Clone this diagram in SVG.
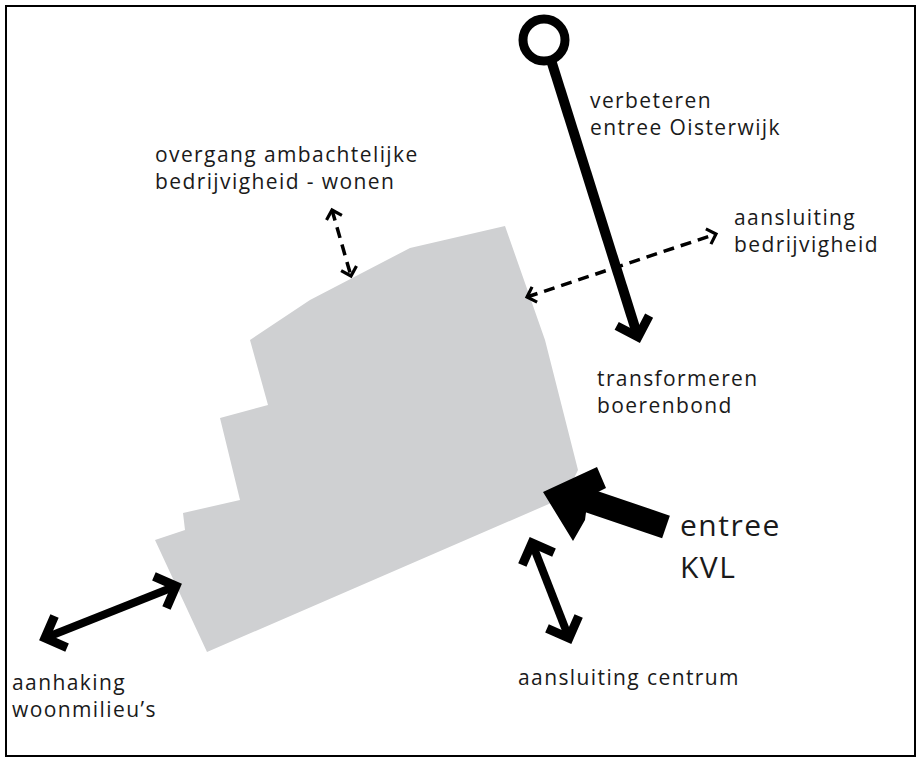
<svg xmlns="http://www.w3.org/2000/svg" width="921" height="762" viewBox="0 0 921 762">
<defs>
<marker id="ch" viewBox="-24 -24 48 48" refX="0" refY="0" markerWidth="48" markerHeight="48" orient="auto-start-reverse" markerUnits="userSpaceOnUse"><path d="M-17,-17 L0,0 L-17,17" fill="none" stroke="#000" stroke-width="9" stroke-linejoin="miter"/></marker>
<marker id="dh" viewBox="-12 -12 24 24" refX="0" refY="0" markerWidth="24" markerHeight="24" orient="auto-start-reverse" markerUnits="userSpaceOnUse"><path d="M-8,-8 L0,0 L-8,8" fill="none" stroke="#000" stroke-width="3.2"/></marker>
</defs>
<style>
text{font-family:"Open Sans","Liberation Sans",sans-serif;font-size:21px;fill:#1a1a1a;letter-spacing:1.4px}
.thick{stroke:#000;stroke-width:8;fill:none}
.dash{stroke:#000;stroke-width:3.5;stroke-dasharray:11 7;fill:none}
</style>
<rect x="6" y="6" width="909" height="750" fill="#fff" stroke="#000" stroke-width="2"/>
<g id="area"><polygon points="250,340 310,300 410,248 505,226 545,340 578,470 565,497 207,652 155,540 185,530 183,513 240,500 220,418 268,405" fill="#cfd0d2"/></g>
<g id="connectors">
<line class="thick" x1="551" y1="60" x2="638" y2="337" style="stroke-width:10" marker-end="url(#ch)"/>
<circle cx="544" cy="40" r="21" fill="#fff" stroke="#000" stroke-width="9"/>
<line class="dash" x1="332" y1="210" x2="351" y2="276" marker-start="url(#dh)" marker-end="url(#dh)"/>
<line class="dash" x1="527" y1="297" x2="716" y2="234" marker-start="url(#dh)" marker-end="url(#dh)"/>
<line class="thick" x1="45" y1="638" x2="176" y2="586" marker-start="url(#ch)" marker-end="url(#ch)"/>
<line class="thick" x1="532" y1="543" x2="569" y2="638" marker-start="url(#ch)" marker-end="url(#ch)"/>
<line stroke="#000" stroke-width="24" x1="666" y1="527" x2="575" y2="496"/>
<polygon points="543,492 597,467 606,488 588,497 585,520 573,541" fill="#000"/>
</g>
<g id="labels">
<text x="155" y="162">overgang ambachtelijke</text>
<text x="155" y="189">bedrijvigheid - wonen</text>
<text x="590" y="108">verbeteren</text>
<text x="590" y="135">entree Oisterwijk</text>
<text x="734" y="225">aansluiting</text>
<text x="734" y="252">bedrijvigheid</text>
<text x="597" y="386">transformeren</text>
<text x="597" y="413">boerenbond</text>
<text x="680" y="536" style="font-size:30px;letter-spacing:1.5px">entree</text>
<text x="680" y="578" style="font-size:30px;letter-spacing:1.5px">KVL</text>
<text x="518" y="685">aansluiting centrum</text>
<text x="12" y="690">aanhaking</text>
<text x="12" y="717">woonmilieu’s</text>
</g>
</svg>
